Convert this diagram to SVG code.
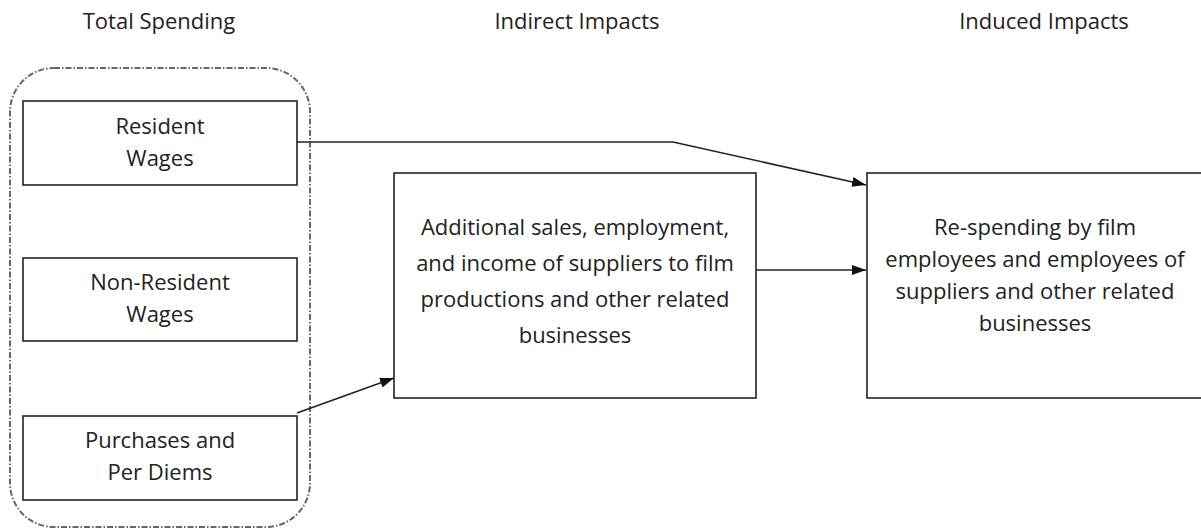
<svg xmlns="http://www.w3.org/2000/svg" width="1201" height="531" viewBox="0 0 1201 531">
<defs>
<marker id="arr" viewBox="0 0 14 10" refX="14" refY="5" markerWidth="14" markerHeight="10" markerUnits="userSpaceOnUse" orient="auto">
<path d="M0,0 L14,5 L0,10 z" fill="#111"/>
</marker>
<style>
.box{fill:#fff;stroke:#222;stroke-width:1.6}
.t{font-family:"Open Sans","Liberation Sans",sans-serif;font-size:22px;fill:#222;text-anchor:middle}
.h{font-family:"Open Sans","Liberation Sans",sans-serif;font-size:22px;fill:#222;text-anchor:middle}
.c{fill:none;stroke:#222;stroke-width:1.6}
</style>
</defs>
<rect width="1201" height="531" fill="#fff"/>
<g id="headers">
<text class="h" x="159" y="29">Total Spending</text>
<text class="h" x="577" y="29">Indirect Impacts</text>
<text class="h" x="1044" y="29">Induced Impacts</text>
</g>
<g id="group-total">
<rect x="10" y="68" width="300" height="459" rx="44" ry="44" fill="none" stroke="#666" stroke-width="2" stroke-dasharray="6,2,1.5,2"/>
</g>
<g id="resident">
<rect class="box" x="23" y="101" width="274" height="84"/>
<text class="t" x="160" y="134">Resident</text>
<text class="t" x="160" y="166">Wages</text>
</g>
<g id="nonresident">
<rect class="box" x="23" y="258" width="274" height="83"/>
<text class="t" x="160" y="290">Non-Resident</text>
<text class="t" x="160" y="322">Wages</text>
</g>
<g id="purchases">
<rect class="box" x="23" y="416" width="274" height="84"/>
<text class="t" x="160" y="448">Purchases and</text>
<text class="t" x="160" y="480">Per Diems</text>
</g>
<g id="indirect">
<rect class="box" x="394" y="173" width="362" height="225"/>
<text class="t" x="575" y="235">Additional sales, employment,</text>
<text class="t" x="575" y="271">and income of suppliers to film</text>
<text class="t" x="575" y="307">productions and other related</text>
<text class="t" x="575" y="343">businesses</text>
</g>
<g id="induced">
<rect class="box" x="867" y="173" width="340" height="225"/>
<text class="t" x="1035" y="235">Re-spending by film</text>
<text class="t" x="1035" y="267">employees and employees of</text>
<text class="t" x="1035" y="299">suppliers and other related</text>
<text class="t" x="1035" y="331">businesses</text>
</g>
<g id="connectors">
<polyline class="c" points="297,142 673,142 866,185" marker-end="url(#arr)"/>
<line class="c" x1="756" y1="270" x2="866" y2="270" marker-end="url(#arr)"/>
<line class="c" x1="297" y1="413" x2="394" y2="378" marker-end="url(#arr)"/>
</g>
</svg>
